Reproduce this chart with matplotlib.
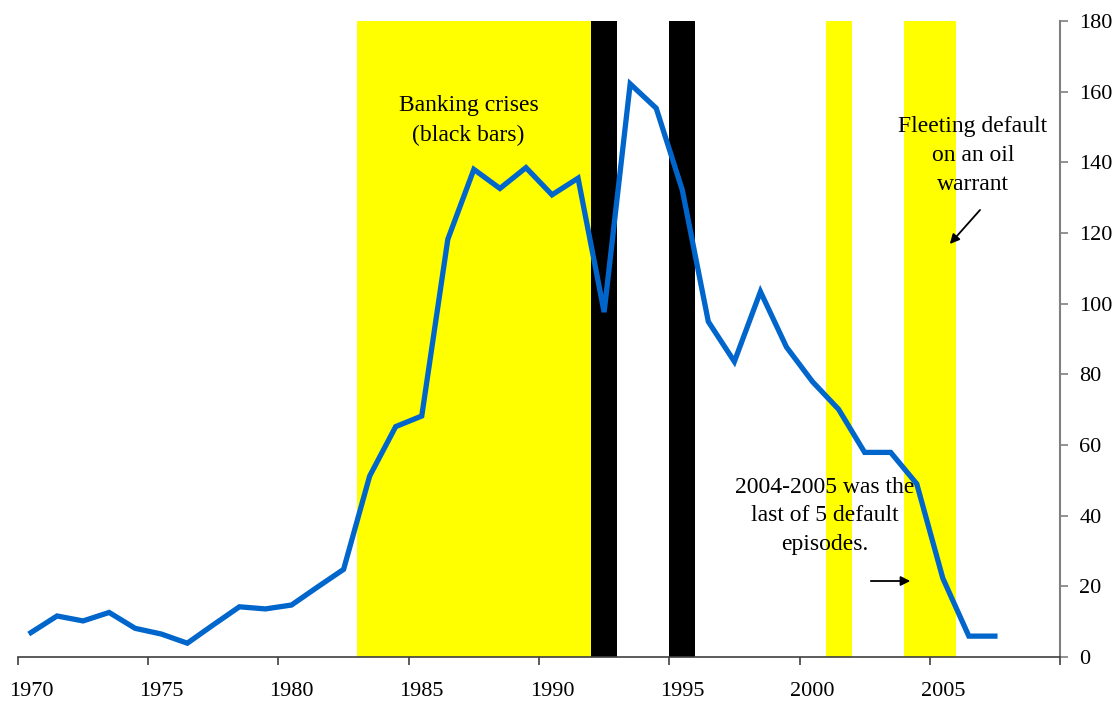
import numpy as np
import matplotlib
matplotlib.use('Agg')
import matplotlib.pyplot as plt

plt.rcParams['font.family'] = ['Liberation Serif', 'DejaVu Serif']

years = np.arange(1970, 2008)
values = [6.9, 11.6, 10.2, 12.6, 8.1, 6.5, 3.9, 9.1, 14.2, 13.6,
          14.7, 19.8, 24.8, 51.2, 65.2, 68.2, 118.2, 138.0, 132.6, 138.5,
          130.8, 135.5, 97.6, 162.2, 155.3, 132.2, 94.9, 83.6, 103.4, 87.7,
          77.9, 70.1, 57.9, 57.9, 49.0, 22.3, 5.9, 5.9]

# default episodes (yellow) and banking crises (black), start/end years
default_spans = [(1983, 1992), (2001, 2002), (2004, 2006)]
banking_spans = [(1992, 1993), (1995, 1996)]

tick_years = np.arange(1970, 2011, 5)
label_years = np.arange(1970, 2006, 5)


def main():
    fig = plt.figure(figsize=(11.15, 7.04), dpi=100)
    ax = fig.add_axes([0.0161, 0.0668, 0.9346, 0.9034])

    for a, b in default_spans:
        ax.axvspan(a, b, color='#FFFF00', lw=0, zorder=1)
    for a, b in banking_spans:
        ax.axvspan(a, b, color='black', lw=0, zorder=1)

    ax.plot(years + 0.5, values, color='#0066CC', lw=3.8, zorder=3,
            solid_joinstyle='miter')

    ax.set_xlim(1970, 2010)
    ax.set_ylim(0, 180)

    ax.set_xticks(tick_years)
    ax.set_xticklabels([])
    ax.set_xticks(label_years + 0.5, minor=True)
    ax.set_xticklabels([str(y) for y in label_years], minor=True)
    ax.tick_params(axis='x', which='major', direction='out', length=6,
                   width=1.2, color='#404040')
    ax.tick_params(axis='x', which='minor', length=0, pad=18, labelsize=16)

    ax.yaxis.tick_right()
    ax.set_yticks(np.arange(0, 181, 20))
    ax.tick_params(axis='y', direction='out', length=6, width=1.2,
                   color='#808080', pad=8, labelsize=16)

    for s in ['top', 'left']:
        ax.spines[s].set_visible(False)
    ax.spines['right'].set_color('#808080')
    ax.spines['right'].set_linewidth(1.5)
    ax.spines['bottom'].set_color('#404040')
    ax.spines['bottom'].set_linewidth(1.2)

    ax.text(1987.3, 151.7, 'Banking crises\n(black bars)', ha='center',
            va='center', fontsize=17, linespacing=1.55, zorder=4)
    ax.text(2006.65, 141.8, 'Fleeting default\non an oil\nwarrant',
            ha='center', va='center', fontsize=17, linespacing=1.5, zorder=4)
    ax.text(2000.98, 39.9, '2004-2005 was the\nlast of 5 default\nepisodes.',
            ha='center', va='center', fontsize=17, linespacing=1.45, zorder=4)

    ax.annotate('', xy=(2005.7, 116.3), xytext=(2007.0, 127.1),
                arrowprops=dict(arrowstyle='-|>', color='black', lw=1.3,
                                mutation_scale=14), zorder=4)
    ax.annotate('', xy=(2004.36, 21.5), xytext=(2002.63, 21.5),
                arrowprops=dict(arrowstyle='-|>', color='black', lw=1.3,
                                mutation_scale=14), zorder=4)

    fig.savefig('out.png', dpi=100)


if __name__ == '__main__':
    main()
